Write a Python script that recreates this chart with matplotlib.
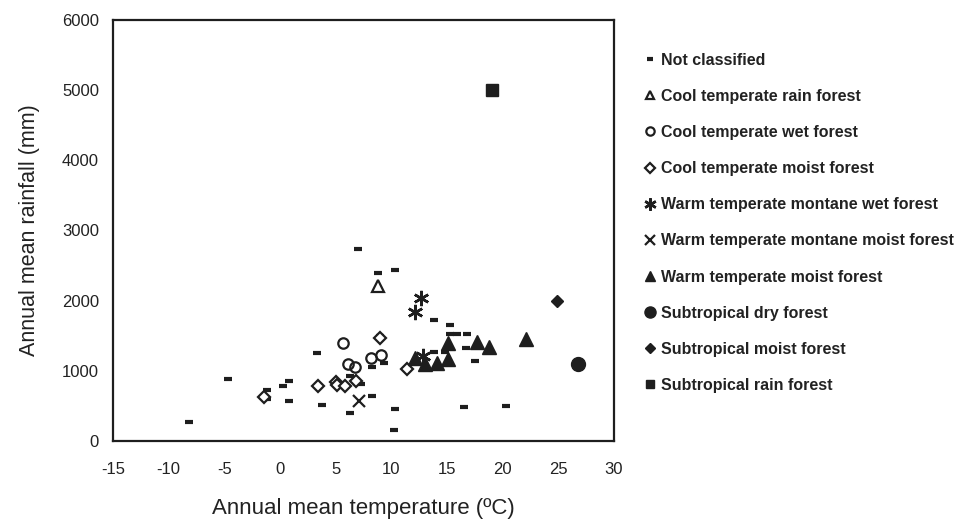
import matplotlib
matplotlib.use('Agg')
import matplotlib.pyplot as plt

plt.rcParams['font.family'] = ['Liberation Sans', 'DejaVu Sans']
plt.rcParams['axes.unicode_minus'] = False

# Datos: temperatura media anual (ºC) y precipitación media anual (mm) por tipo de bosque
nc_temp = [-8.2, -4.7, -1.2, -1.2, 0.3, 0.8, 0.8, 3.3, 3.8, 6.3, 6.3, 7.0, 7.3, 8.3, 8.3,
           8.8, 9.3, 9.0, 10.2, 10.3, 10.3, 13.8, 15.3, 15.3, 15.9, 16.8, 16.7, 18.8,
           13.8, 14.8, 16.5, 17.5, 20.3]
nc_rain = [266, 879, 720, 600, 784, 855, 570, 1254, 513, 403, 931, 2736, 808, 1059, 641,
           2399, 1116, 1500, 157, 460, 2441, 1724, 1650, 1525, 1525, 1525, 1321, 1273,
           1270, 1270, 489, 1142, 503]

ctrf_temp = [8.8]
ctrf_rain = [2209]

ctwf_temp = [5.7, 6.1, 6.7, 8.2, 9.1]
ctwf_rain = [1392, 1097, 1059, 1187, 1225]

ctmf_temp = [-1.4, 3.4, 5.0, 5.1, 5.8, 6.8, 9.0, 11.4]
ctmf_rain = [631, 784, 845, 798, 784, 860, 1463, 1021]

wtmwf_temp = [12.7, 12.1, 12.8]
wtmwf_rain = [2042, 1838, 1211]

wtmmf_temp = [7.1]
wtmmf_rain = [570]

wtmf_temp = [12.1, 13.0, 14.1, 15.1, 15.1, 17.7, 18.8, 22.1]
wtmf_rain = [1187, 1090, 1116, 1164, 1401, 1410, 1340, 1458]

sdf_temp = [26.8]
sdf_rain = [1097]

smf_temp = [24.9]
smf_rain = [1995]

srf_temp = [19.0]
srf_rain = [5000]

negro = '#1e1e1e'

fig = plt.figure(figsize=(9.59, 5.21), dpi=100)
ax = fig.add_axes([0.1178, 0.1536, 0.5225, 0.808])

ax.plot(nc_temp, nc_rain, ls='none', marker='_', ms=5.5, mew=3, color=negro,
        label='Not classified')
ax.plot(ctrf_temp, ctrf_rain, ls='none', marker='^', ms=8, mfc='white', mec=negro,
        mew=1.6, label='Cool temperate rain forest')
ax.plot(ctwf_temp, ctwf_rain, ls='none', marker='o', ms=7.5, mfc='none', mec=negro,
        mew=1.6, label='Cool temperate wet forest')
ax.plot(ctmf_temp, ctmf_rain, ls='none', marker='D', ms=6, mfc='white', mec=negro,
        mew=1.6, label='Cool temperate moist forest')
ax.plot(wtmwf_temp, wtmwf_rain, ls='none', marker=(6, 2, 0), ms=11, mec=negro,
        mew=1.8, label='Warm temperate montane wet forest')
ax.plot(wtmmf_temp, wtmmf_rain, ls='none', marker='x', ms=9, mec=negro,
        mew=1.6, label='Warm temperate montane moist forest')
ax.plot(wtmf_temp, wtmf_rain, ls='none', marker='^', ms=9.5, color=negro,
        label='Warm temperate moist forest')
ax.plot(sdf_temp, sdf_rain, ls='none', marker='o', ms=10, color=negro,
        label='Subtropical dry forest')
ax.plot(smf_temp, smf_rain, ls='none', marker='D', ms=6.5, color=negro,
        label='Subtropical moist forest')
ax.plot(srf_temp, srf_rain, ls='none', marker='s', ms=8, color=negro,
        label='Subtropical rain forest')

ax.set_xlim(-15, 30)
ax.set_ylim(0, 6000)
ax.set_xticks(range(-15, 31, 5))
ax.set_yticks(range(0, 6001, 1000))
ax.tick_params(length=0, labelsize=12, colors='#222222', pad=15)
ax.tick_params(axis='y', pad=10)

for s in ax.spines.values():
    s.set_linewidth(1.6)
    s.set_color(negro)

ax.set_xlabel('Annual mean temperature (ºC)', fontsize=16, color='#222222', labelpad=15)
ax.set_ylabel('Annual mean rainfall (mm)', fontsize=15.5, color='#222222', labelpad=16)

leg = ax.legend(loc='upper left', bbox_to_anchor=(0.674, 0.899),
                bbox_transform=fig.transFigure, frameon=False,
                handlelength=0.5, handletextpad=0.4, borderpad=0,
                borderaxespad=0, labelspacing=1.325, markerscale=0.8,
                prop={'weight': 'bold', 'size': 11.5})
for t in leg.get_texts():
    t.set_color('#222222')

fig.savefig('out.png', dpi=100)
